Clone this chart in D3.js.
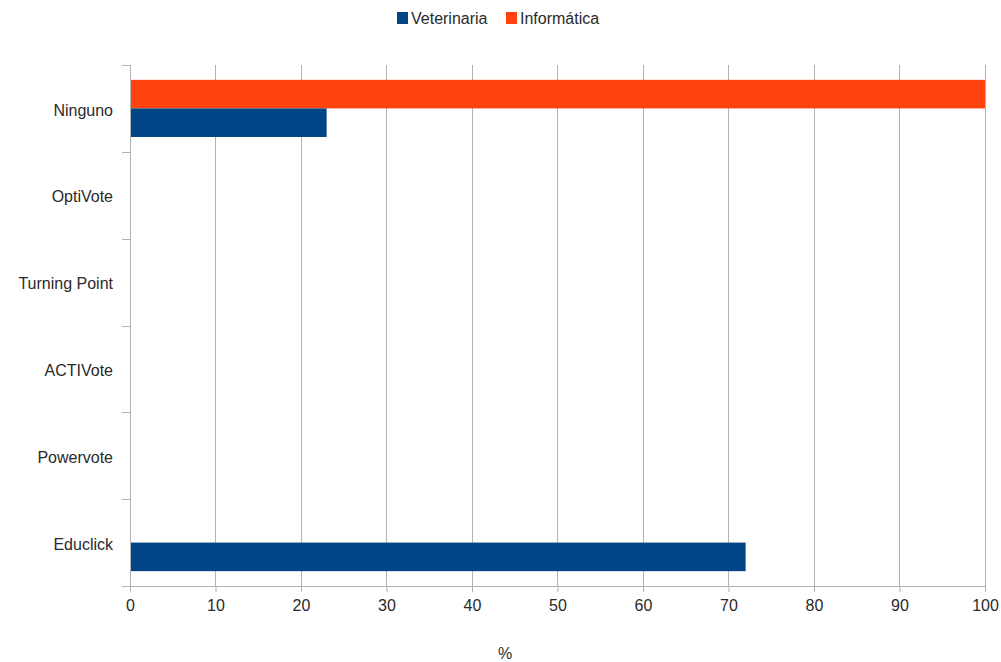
<!DOCTYPE html>
<html><head><meta charset="utf-8">
<script src="https://cdn.jsdelivr.net/npm/d3@7"></script>
<style>body{margin:0;background:#fff;}svg{display:block;}text{font-family:"Liberation Sans",Arial,sans-serif;fill:#2a2a2a;}</style>
</head><body>
<svg id="c" width="1001" height="662"></svg>
<script>
const categories = ["Ninguno","OptiVote","Turning Point","ACTIVote","Powervote","Educlick"];
const seriesNames = ["Veterinaria","Informática"];
const veterinaria = [23,0,0,0,0,72];
const informatica = [100,0,0,0,0,0];
const xTicks = [0,10,20,30,40,50,60,70,80,90,100];
const colors = ["#004586","#ff420e"];

const svg = d3.select("#c");
const m = {l:130, r:985, t:65, b:586};
const x = d3.scaleLinear().domain([0,100]).range([m.l,m.r]);
const y = d3.scaleBand().domain(categories).range([m.t,m.b]);
const inner = d3.scaleBand().domain(["Informática","Veterinaria"]).range([0,y.bandwidth()]).paddingInner(0).paddingOuter(0.52);

// grid
svg.append("g").selectAll("line").data(xTicks).join("line")
  .attr("x1",d=>x(d)).attr("x2",d=>x(d)).attr("y1",m.t).attr("y2",m.b)
  .attr("stroke","#b3b3b3").attr("stroke-width",1).attr("shape-rendering","crispEdges");

// bars
const data = [];
categories.forEach((c,i)=>{
  data.push({cat:c, s:"Informática", v:informatica[i], col:colors[1]});
  data.push({cat:c, s:"Veterinaria", v:veterinaria[i], col:colors[0]});
});
svg.append("g").selectAll("rect").data(data.filter(d=>d.v>0)).join("rect")
  .attr("x",x(0)).attr("y",d=>y(d.cat)+inner(d.s))
  .attr("width",d=>x(d.v)-x(0)).attr("height",inner.bandwidth())
  .attr("fill",d=>d.col);

// x axis
const xa = svg.append("g").attr("transform",`translate(0,${m.b})`)
  .call(d3.axisBottom(x).tickValues(xTicks).tickSize(6).tickPadding(8));
xa.select(".domain").attr("stroke","#b3b3b3").attr("d",`M${m.l-8},0.5H${m.r}`);
xa.selectAll(".tick line").attr("stroke","#b3b3b3");
xa.selectAll("text").attr("font-size",16).style("fill","#2a2a2a");

// y axis
const ya = svg.append("g").attr("transform",`translate(${m.l},2)`)
  .call(d3.axisLeft(y).tickSize(0).tickPadding(17));
ya.select(".domain").attr("stroke","#b3b3b3").attr("d",`M0.5,${m.t-2}V${m.b-2}`);
ya.selectAll("text").attr("font-size",16).style("fill","#2a2a2a");
// y separator ticks
const bounds = categories.slice(1).map(c=>y(c));
svg.append("g").selectAll("line").data(bounds.concat([m.t])).join("line")
  .attr("x1",m.l-8).attr("x2",m.l).attr("y1",d=>Math.round(d)+0.5).attr("y2",d=>Math.round(d)+0.5)
  .attr("stroke","#b3b3b3");

// x title
svg.append("text").attr("x",505).attr("y",659).attr("text-anchor","middle").attr("font-size",16).text("%");

// legend
const leg = svg.append("g");
const lx = [397,506];
seriesNames.forEach((n,i)=>{
  leg.append("rect").attr("x",lx[i]).attr("y",12).attr("width",11).attr("height",12).attr("fill",colors[i]);
  leg.append("text").attr("x",lx[i]+14).attr("y",24).attr("font-size",16).text(n);
});
</script>
</body></html>
